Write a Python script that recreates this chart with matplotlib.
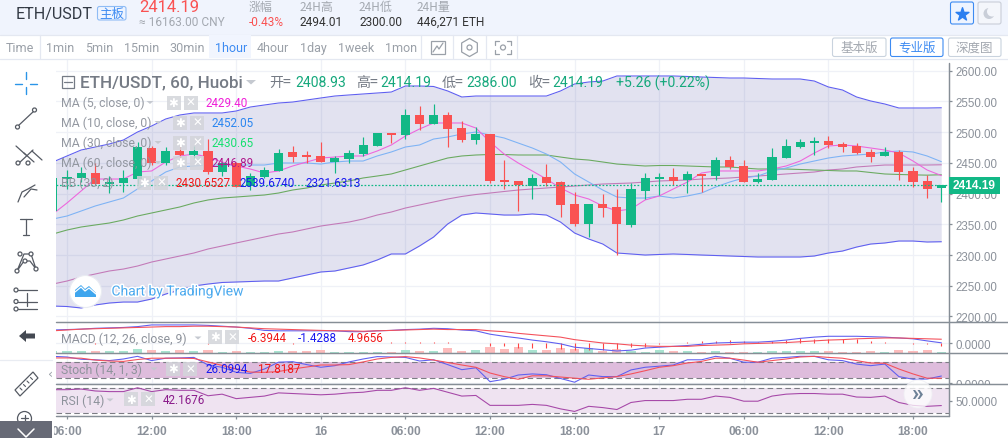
import numpy as np
import matplotlib
matplotlib.use("Agg")
import matplotlib.pyplot as plt
from matplotlib.patches import Rectangle, Circle, FancyBboxPatch, Polygon
import matplotlib.patheffects as pe

W, H = 1008, 439
# ---------- data (hourly bars, first one is cut by the left edge) ----------
opens = [2372,2424,2426,2434,2415.5,2418,2424,2475,2450,2469,2463,2469,2435,2450,2413,2427,2437,2467,2462,2461,2451,2456,2464,2477,2499,2495,2528,2513,2528,2507,2487,2497,2422,2420,2412,2427,2419,2383,2350,2383,2378,2349,2404,2424,2427,2422,2432,2429,2455,2445,2419,2422,2458,2476,2482,2486,2481,2477,2468,2461,2468,2437,2420,2408.93]
highs = [2425,2438,2444,2449,2428.6,2438,2484,2478,2476,2480,2477,2489,2451,2451,2434,2443,2473,2478,2470,2484,2461,2471,2492,2499,2499,2538,2543,2546,2533,2518,2508,2497,2455,2420,2432,2448,2420,2403,2383,2399,2407,2417,2433,2433,2442,2437,2432,2460,2461,2455,2433,2474,2489,2489,2492,2494,2484,2482,2473,2476,2471,2443,2430,2414.19]
lows = [2372,2407,2419,2414,2401.5,2403,2416,2447,2446,2456,2457,2432,2429,2410,2406,2426,2436,2451,2449,2451,2433,2450,2461,2477,2482,2489,2503,2513,2476,2484,2481,2417,2407,2372,2391,2412,2362,2347,2329,2362,2300,2346,2391,2398,2414,2401,2403,2422,2440,2419,2418,2422,2458,2474,2463,2474,2468,2464,2451,2461,2422,2411,2393,2386]
closes = [2425,2427,2434,2415,2419,2425,2476,2450,2469,2463,2469,2435,2450,2411,2429,2438,2466,2460,2460,2451,2458,2466,2479,2499,2495,2528,2513,2528,2505,2487,2497,2420,2419,2414,2425,2417,2381,2350,2383,2376,2350,2407,2425,2427,2420,2432,2429,2455,2443,2419,2424,2460,2477,2484,2486,2479,2476,2466,2460,2468,2435,2419,2407,2414.19]
ma5 = [2366.8,2384.7,2404.2,2423.7,2423.7,2423.7,2435.1,2436.8,2451.4,2461.2,2464.4,2459.5,2451.4,2444.9,2440,2433.5,2436.8,2444.9,2451.4,2457.9,2459.5,2461.2,2461.2,2469.3,2479.1,2493.7,2505.1,2514.9,2514.9,2514.9,2506.7,2484,2464.4,2449.8,2436.8,2423.7,2409.1,2397.7,2391.2,2379.8,2371.7,2374.9,2389.6,2396.1,2407.5,2418.8,2433.5,2436.8,2436.8,2436.8,2436.8,2440,2444.9,2453,2466,2477.4,2479.1,2477.4,2474.2,2470.9,2466,2453,2438.4,2429.4]
ma10 = [2358.6,2363.5,2371.6,2379.8,2386.3,2392.8,2407.5,2420.5,2435.1,2443.3,2444.9,2446.5,2446.5,2446.5,2446.5,2446.5,2449.8,2449.8,2449.8,2448.1,2451.4,2453,2453,2461.2,2467.7,2475.8,2479.1,2488.8,2492.1,2497,2500.2,2495.4,2490.5,2482.3,2474.2,2464.4,2451.4,2431.9,2418.8,2405.8,2394.4,2392.8,2392.8,2396.1,2392.8,2396.1,2400.9,2410.7,2418.8,2425.4,2428.6,2436.8,2441.6,2448.1,2453,2457.9,2461.2,2462.8,2464.4,2467.7,2469.3,2467.7,2461.2,2452.05]
ma30 = [2334.2,2340.7,2345.6,2348.9,2352.1,2357,2363.5,2368.4,2373.3,2378.2,2384.7,2389.6,2392.8,2394.4,2396.1,2397.7,2400.9,2405.8,2409.1,2414,2417.2,2420.5,2425.4,2428.6,2431.9,2438.4,2444.9,2451.4,2457.9,2461.2,2462.8,2463.6,2463.6,2462.8,2462.8,2462.8,2459.5,2456.3,2454.6,2451.4,2448.1,2446.5,2444.9,2445.7,2445.7,2444.9,2444.1,2443.3,2443.3,2441.6,2440,2440,2440,2439.2,2438.4,2437.6,2436.8,2436.8,2434.3,2431.9,2431.1,2430.5,2430,2430.65]
ma60 = [2252.8,2257.7,2264.2,2269.1,2274,2277.2,2282.1,2288.6,2293.5,2298.4,2303.3,2309.8,2314.7,2319.6,2324.4,2329.3,2334.2,2337.5,2342.4,2347.2,2350.5,2353.7,2358.6,2365.1,2370,2376.5,2381.4,2386.3,2391.2,2395.3,2398.5,2400.9,2403.4,2405.8,2407.5,2409.1,2410.7,2412.3,2414,2415.6,2416.4,2417.2,2418.8,2420.5,2421.3,2422.1,2423.7,2424.5,2425.4,2427,2428.6,2430.2,2431.9,2433.5,2435.1,2438.4,2440,2443.3,2444.9,2446.5,2446.5,2446.5,2446.5,2446.89]
bb_upper = [2451.4,2461.2,2470.9,2475.8,2480.7,2487.2,2500.2,2510,2521.4,2527.9,2531.2,2531.2,2531.2,2534.4,2540.9,2544.2,2547.4,2549,2552.3,2555.6,2558.8,2560.5,2562.1,2563.7,2565.3,2575.1,2575.1,2574.3,2567,2557.2,2558.8,2558.8,2558.8,2558.8,2558.8,2558.8,2567,2578.4,2581.6,2583.2,2591.4,2591.4,2591.4,2591.4,2591.4,2590.6,2589.7,2588.9,2588.1,2588.1,2587.3,2586.5,2586.5,2586.5,2583.2,2573.5,2568.6,2557.2,2550.7,2545.8,2539.3,2539.3,2539.3,2539.67]
bb_lower = [2217,2216.2,2213.8,2218.7,2221.9,2223.5,2223.5,2228.4,2236.5,2243,2249.6,2252.8,2255.3,2256.1,2256.9,2257.7,2257.7,2262.6,2267.5,2272.4,2274,2278.9,2283.8,2291.9,2301.7,2301.7,2314.7,2329.3,2350.5,2365.1,2368.4,2366.8,2365.1,2365.1,2366.8,2365.1,2353.7,2335.8,2326.1,2317.9,2303.3,2301.7,2300,2300.9,2301.7,2300.9,2300,2299.2,2298.4,2297.6,2296.8,2296.8,2296.8,2296.8,2298.4,2303.3,2306.5,2313,2317.9,2319.6,2322.8,2322.8,2321.2,2321.63]
macd_line = [31,32,33,35,36,37,39,43,43,43,43,42,40,38,35,30,29,29,29,29,29,27,27,29,30,32,33,35,34,31,29,21,16,12,7,3,-2,-10,-13,-16,-19,-17,-12,-10,-8,-6,-3,0,1,2,2,4,7,11,14,16,16,16,15,14,12,10,5,0.5]
macd_signal = [29,31,33,34,35,36,37,38,39,39,40,40,39,38,36,34,33,32,31,30,29,29,28,29,30,31,32,33,32,32,32,29,27,23,20,17,14,8,4,0,-2,-5,-7,-8,-8,-8,-6,-5,-4,-2,-1,0,1,3,5,7,8,10,11,12,12,11,10,9]
macd_hist = [0,0,0,-2,0,0,0,0,0,0,0,-2,0,0,0,0,0,-2,0,0,0,0,0,0,2,2,2,2,2,0,0,-7,-8,-12,-11,-12,-14,-17,-17,-16,-14,-10,-9,-2,0,2,4,5,7,5,3,5.5,8,11,9.5,9.5,9.5,9.5,5,3,0,-2,-3.5,-6.39]
volume_k = [19,19,19,19,19,19,41,24,19,28.5,19,28.5,14,19,14,14,19,19,19,24,14,9.5,9.5,9.5,9.5,31,22,22,45,22,31,60,41,60,28.5,31,50,41,47.5,22,41,22,12,31,19,19,9.5,19,9.5,9.5,9.5,19,19,19,19,19,9.5,9.5,19,9.5,28.5,19,28.5,9.5]
stoch_k = [100,97.5,89,87,84,90,100,84,93,94,96,67.5,59,40,36,52.5,78,80,69,59,65,79,90,99,97.5,96,82.5,87,69,50,57,5,14,30,34,31,17,3,30,24,24,49,59,63,67.5,87,87,100,93,78,78,93,96,100,100,87,84,71,65,71,24,14,15,26.1]
stoch_d = [94,94,93,86,82.5,81,88,93,93,93,92,79,66,52.5,41,40,43,52.5,60,67.5,67.5,69,79,90,96,99,94,86,77,67.5,59,37.5,24,14,27,27,22.5,18,14,19,24,34,46,59,65,75,81,93,93,86,78,84,90,97.5,100,96,93,84,75,74,52.5,34,18,17.8]
rsi = [67,67,68,65,64,64,70,64,67,66,66,57.5,60,53,55,57,62,61,60,59,60,62,63,66,66,70,66,69,63,57,58,42.5,42.5,42.5,44,42.5,37,33,41,39,36,47,50,50,50,52,52,57,55,49,49,57,60,61,61,60,60,55.5,55,57,47,42.5,41,42.17]
time_ticks = [0,6,12,18,24,30,36,42,48,54,60]
time_labels = ["06:00","12:00","18:00","16","06:00","12:00","18:00","17","06:00","12:00","18:00"]
price_ticks = [2200,2250,2300,2350,2400,2450,2500,2550,2600]

idx = np.arange(-1, 63)
GREEN, RED, GRID, AX, LBL = "#12b886", "#fa5252", "#eff1f7", "#868e96", "#8b919a"
LW = 0.78
CJK = ["Noto Sans CJK SC", "Roboto"]
plt.rcParams["font.family"] = ["Roboto", "Noto Sans CJK SC", "DejaVu Sans"]

fig = plt.figure(figsize=(W/100, H/100), dpi=100, facecolor="white")
XL, XR = 56, 949
x_lim = ((XL-67)/14.1, (XR-67)/14.1)

def pane(top, bot, facecolor="white"):
    a = fig.add_axes([XL/W, 1-bot/H, (XR-XL)/W, (bot-top)/H], facecolor=facecolor)
    a.set_xlim(*x_lim)
    a.set_xticks(time_ticks)
    a.grid(True, color=GRID, lw=0.9, zorder=0)
    a.set_axisbelow(True)
    for s in a.spines.values():
        s.set_visible(False)
    a.yaxis.tick_right()
    a.tick_params(axis="x", length=0, labelbottom=False)
    a.tick_params(axis="y", length=2.2, width=0.9, color=AX, labelcolor=LBL, labelsize=8.3, pad=2.3)
    return a

# ---------- main pane ----------
ax = pane(60, 323)
ax.set_ylim(2191.0, 2619.04)
ax.set_yticks(price_ticks, [f"{p:.2f}" for p in price_ticks], family="Liberation Sans")
ax.fill_between(idx, bb_lower, bb_upper, color="#3f3f9f", alpha=0.15, lw=0, zorder=1)
ax.plot(idx, ma60, color="#c37ab8", lw=LW, zorder=2)
ax.plot(idx, ma30, color="#6aaa60", lw=LW, zorder=2)
ax.plot(idx, ma10, color="#7eb3f5", lw=LW, zorder=2)
ax.plot(idx, ma5, color="#ee66dd", lw=LW, zorder=2)
ax.plot(idx, bb_upper, color="#5f5ff0", lw=LW, zorder=2)
ax.plot(idx, bb_lower, color="#5f5ff0", lw=LW, zorder=2)
cols = [GREEN if c >= o else RED for o, c in zip(opens, closes)]
ax.vlines(idx, lows, highs, colors=cols, lw=0.85, zorder=3)
ax.bar(idx, np.array(closes)-np.array(opens), bottom=opens, width=0.65, color=cols, lw=0, zorder=3)
ax.axhline(closes[-1], color=GREEN, lw=0.9, ls=(0, (1.4, 1.4)), zorder=4)

# ---------- MACD pane, with volume on its own hidden scale behind it ----------
am = pane(323, 354)
am.set_ylim(-23.8, 50)
am.set_yticks([0], ["0.0000"], family="Liberation Sans")
vol = fig.add_axes(am.get_position(), facecolor="none")
vol.set_xlim(*x_lim); vol.set_ylim(0, 294.5); vol.axis("off")
vol.bar(idx, volume_k, width=0.65, lw=0, color=["#a8e3d0" if c == GREEN else "#fdbcbc" for c in cols], zorder=1)
lay = fig.add_axes(am.get_position(), facecolor="none")
lay.set_xlim(*x_lim); lay.set_ylim(-23.8, 50); lay.axis("off")
lay.vlines(idx, 0, macd_hist, colors="#f44", lw=0.8)
lay.plot(idx, macd_line, color="#5f5ff0", lw=LW)
lay.plot(idx, macd_signal, color="#f4505a", lw=LW)

# ---------- Stoch pane ----------
ast = pane(354, 385.5)
ast.set_ylim(-5.6, 112.5)
ast.set_yticks([0], ["0.0000"], family="Liberation Sans")
ast.set_xlim(*x_lim)
ast.fill_between([x_lim[0], 62.55], 20, 80, color="#debcdc", lw=0, zorder=1)
for lv in (20, 80):
    ast.axhline(lv, color="#7d7d85", lw=0.8, ls=(0, (5, 3)), zorder=2)
ast.plot(idx, stoch_k, color="#5f5ff0", lw=LW, zorder=3)
ast.plot(idx, stoch_d, color="#f4505a", lw=LW, zorder=3)

# ---------- RSI pane ----------
ar = pane(385.5, 417.3)
ar.set_ylim(25.4, 75.1)
ar.set_yticks([50], ["50.0000"], family="Liberation Sans")
ar.fill_between([x_lim[0], 62.55], 30, 70, color="#efe3f1", lw=0, zorder=1)
for lv in (30, 70):
    ar.axhline(lv, color="#7d7d85", lw=0.8, ls=(0, (5, 3)), zorder=2)
ar.plot(idx, rsi, color="#a648a8", lw=LW, zorder=3)
ar.tick_params(axis="x", length=2.2, width=0.9, color=AX, labelcolor=LBL, labelbottom=True, labelsize=8.6, pad=4)
ar.set_xticks(time_ticks, time_labels, family="Liberation Sans", weight="bold")

# ---------- page chrome, in pixel coordinates ----------
o = fig.add_axes([0, 0, 1, 1], facecolor="none")
o.set_xlim(0, W); o.set_ylim(H, 0); o.axis("off")

def T(x, y, s, c="#333", sz=9, ha="left", fam=None, w="normal", a=None, z=20, **k):
    return o.text(x, y, s, color=c, fontsize=sz, ha=ha, va="center", family=fam or ["Roboto", "Noto Sans CJK SC"],
                  weight=w, alpha=a, zorder=z, **k)
def R(x0, y0, x1, y1, fc, ec="none", lw=0, z=5, a=None):
    o.add_patch(Rectangle((x0, y0), x1-x0, y1-y0, fc=fc, ec=ec, lw=lw, zorder=z, alpha=a))
def L(xs, ys, c="#555", lw=0.9, z=22, **k):
    o.plot(xs, ys, color=c, lw=lw, zorder=z, solid_capstyle="round", **k)
def RB(x0, y0, x1, y1, fc, ec, lw=0.8, z=6):
    o.add_patch(FancyBboxPatch((x0+1, y0+1), x1-x0-2, y1-y0-2, boxstyle="round,pad=1,rounding_size=2", fc=fc, ec=ec, lw=lw, zorder=z))

R(0, 0, W, 35.5, "#f0f4fd", z=5)
L([0, W], [35.5, 35.5], "#e4e8f1", 0.9, z=6)
R(0, 36, W, 59.5, "white", z=5)
L([0, W], [59.5, 59.5], "#e4e8f1", 0.9, z=6)
R(0, 60, 54, H, "white", z=5)
R(949.8, 60, W, 63, "white", z=5)
R(950, 386.2, W, 396, "white", z=5)

T(16, 14.5, "ETH/USDT", "#333a45", 11.6)
RB(97.5, 7.5, 126, 21, "#eef4ff", "#8fbcf5")
T(111.8, 14.5, "主板", "#3d8bf2", 9, ha="center", fam=CJK)
T(139, 7.5, "2414.19", "#fa5252", 12)
T(139, 22.5, "≈ 16163.00 CNY", "#a3a8b0", 8.6)
for xx, lab, val, vc in [(249, "涨幅", "-0.43%", "#fa5252"), (300, "24H高", "2494.01", "#333"),
                         (359, "24H低", "2300.00", "#333"), (417, "24H量", "446,271 ETH", "#333")]:
    T(xx, 7.5, lab, "#a3a8b0", 8.6, fam=CJK)
    T(xx, 22.5, val, vc, 8.6)
RB(950.5, 3, 973.5, 25, "#eef4ff", "#3d8bf2")
o.scatter([962], [14.5], s=95, marker="*", color="#2b7ff0", zorder=22)
RB(978, 3, 1001, 25, "#f4f6fb", "#c9ced8")
o.add_patch(Circle((989, 14.5), 5.5, fc="#c9ced8", zorder=22))
o.add_patch(Circle((992, 12.5), 5, fc="#f4f6fb", zorder=23))

R(209, 36, 250.5, 59, "#f1f5fe", z=6)
for x0, s, c in [(6, "Time", "#9aa0a8"), (46, "1min", "#9aa0a8"), (85, "5min", "#9aa0a8"), (124, "15min", "#9aa0a8"),
                 (169, "30min", "#9aa0a8"), (215, "1hour", "#3d8bf2"), (257, "4hour", "#9aa0a8"),
                 (300, "1day", "#9aa0a8"), (338, "1week", "#9aa0a8"), (385, "1mon", "#9aa0a8")]:
    T(x0, 48.5, s, c, 9)
for xs in (39.5, 421, 453, 486, 517):
    L([xs, xs], [36, 59], "#e4e8f1", 0.9, z=6)
R(431, 41.5, 445, 55, "none", "#9aa0a8", 0.9, z=22)
L([433, 437, 439, 443], [53, 47, 50, 44], "#9aa0a8")
o.scatter([469.5], [48.5], s=170, marker="h", facecolors="none", edgecolors="#9aa0a8", lw=0.9, zorder=22)
o.add_patch(Circle((469.5, 48.5), 2.5, fc="none", ec="#9aa0a8", lw=0.9, zorder=22))
for a, b, c, d in [(495, 46, 495, 42), (495, 42, 499, 42), (507, 42, 511, 42), (511, 42, 511, 46),
                   (495, 51, 495, 55), (495, 55, 499, 55), (507, 55, 511, 55), (511, 55, 511, 51)]:
    L([a, c], [b, d], "#9aa0a8")
o.add_patch(Circle((503, 48.5), 2.5, fc="none", ec="#9aa0a8", lw=0.9, zorder=22))
for x0, x1, s, c, ec in [(832.5, 886, "基本版", "#a3a8b0", "#c9d3de"), (890.5, 943, "专业版", "#3d8bf2", "#3d8bf2"),
                         (948.5, 1001, "深度图", "#a3a8b0", "#c9d3de")]:
    RB(x0, 39, x1, 57.5, "white", ec)
    T((x0+x1)/2, 48.5, s, c, 9, ha="center", fam=CJK)

# axis and separator lines
for yy in (323.3, 354, 385.5):
    L([56, W], [yy, yy], AX, 1.05, z=8)
L([56, 949], [417.3, 417.3], AX, 1.05, z=8)
L([949.3, 949.3], [64, 417.3], AX, 1.05, z=8)

# last price tag
R(949, 178, 1000, 195, GREEN, z=9)
T(974.5, 186.5, "2414.19", "white", 8.6, ha="center", fam="Liberation Sans", w="bold")

# legends
R(62, 77, 73.5, 88.5, "none", "#757b85", 0.9, z=22)
L([64, 72], [82.8, 82.8], "#757b85", 0.9)
T(80, 83, "ETH/USDT, 60, Huobi", "#757b85", 12.3, w="medium")
o.add_patch(Polygon([[246, 81], [256, 81], [251, 85.5]], fc="#c5c9d0", zorder=21))
sc = "#15a87c"
T(269, 83, "开=", "#757b85", 10.1, fam=CJK)
T(295, 83, "2408.93", sc, 10.1)
T(356, 83, "高=", "#757b85", 10.1, fam=CJK)
T(380, 83, "2414.19", sc, 10.1)
T(442, 83, "低=", "#757b85", 10.1, fam=CJK)
T(466, 83, "2386.00", sc, 10.1)
T(528, 83, "收=", "#757b85", 10.1, fam=CJK)
T(552, 83, "2414.19", sc, 10.1)
T(616, 83, "+5.26 (+0.22%)", sc, 10.1)

def btns(x0, yc):
    for xb, glyph in ((x0, "✱"), (x0+17, "✕")):
        R(xb, yc-7, xb+14, yc+7, "#d3d5da", z=15, a=0.85)
        T(xb+7, yc, glyph, "white", 8.5, ha="center", fam=["DejaVu Sans"], z=16)

rows = [(61, 103.5, "MA (5, close, 0)", 166.5),
        (61, 123.5, "MA (10, close, 0)", 173),
        (61, 143.5, "MA (30, close, 0)", 173),
        (61, 163.5, "MA (60, close, 0)", 173),
        (61, 183.5, "BB (30, 2)", 137)]
for x0, yy, s, bx in rows:
    T(x0, yy, s, "#8e939c", 8.8, a=0.95, z=16)
    btns(bx, yy)
VS = 8.4
T(206, 103.5, "2429.40", "#f01fd8", VS)
T(212, 123.5, "2452.05", "#2a86f0", VS)
T(212, 143.5, "2430.65", "#16e070", VS)
T(212, 163.5, "2446.89", "#b0188c", VS)
T(175, 183.5, "2430.6527", "#f01818", VS)
T(240, 183.5, "2539.6740", "#1818f0", VS)
T(305, 183.5, "2321.6313", "#1818f0", VS)

T(61, 339, "MACD (12, 26, close, 9)", "#8e939c", 8.8, z=16)
btns(208, 338)
T(248, 339, "-6.3944", "#f01818", VS)
T(298, 339, "-1.4288", "#1818f0", VS)
T(348, 339, "4.9656", "#f01818", VS)
T(61, 370, "Stoch (14, 1, 3)", "#8e939c", 8.8, z=16)
btns(166, 370)
T(205, 370, "26.0994", "#1818f0", VS)
T(258, 370, "17.8187", "#f01818", VS)
T(61, 401, "RSI (14)", "#8e939c", 8.8, z=16)
btns(124, 400.5)
T(163, 401, "42.1676", "#8a1a8a", VS)
for xx, yy in [(150, 103.5), (158, 123.5), (158, 143.5), (158, 163.5), (198, 339), (154, 370), (110, 401)]:
    o.add_patch(Polygon([[xx-3.5, yy-1.5], [xx+3.5, yy-1.5], [xx, yy+1.5]], fc="#c5c9d0", zorder=17))

# TradingView badge
o.add_patch(Circle((85.5, 292.5), 16, fc="white", ec="#e9ecf2", lw=0.8, zorder=18))
o.add_patch(Polygon([[75, 298], [75, 291], [81, 286], [85, 290], [89, 287], [96, 294], [96, 298]], fc="#3fa6ee", zorder=19))
L([75, 81, 85, 89, 96], [293, 288, 292, 289, 295], "white", 0.9)
T(111.5, 292.5, "Chart by TradingView", "#4aa9ee", 10, z=19, path_effects=[pe.withStroke(linewidth=2.2, foreground="white")])
# scroll button
o.add_patch(Circle((918, 395), 14, fc="white", alpha=0.75, ec="#efeff4", lw=0.8, zorder=18))
T(918, 394, "»", "#6d8197", 17, ha="center", w="bold", z=19)

# left tool strip
BL = "#2b95e8"
L([26, 26], [73, 80], BL, 1); L([26, 26], [88, 95], BL, 1)
L([15, 22], [84.5, 84.5], BL, 1); L([30, 37], [84.5, 84.5], BL, 1)
IC = "#555a63"
L([18, 34], [127, 112], IC, 0.9)
for px, py in [(17.5, 128), (34.5, 111)]:
    o.add_patch(Circle((px, py), 2, fc="white", ec=IC, lw=0.9, zorder=23))
for a, b in [(20, 146), (28, 153), (36, 151)]:
    L([a-4, a+6], [b+1, b+10], IC, 0.9)
L([18, 33], [165, 151], IC, 0.9)
for px, py in [(18, 164), (28, 164)]:
    o.add_patch(Circle((px, py), 2, fc="white", ec=IC, lw=0.9, zorder=23))
L([18, 22, 28, 35], [203, 193, 190, 186], IC, 0.9); L([24, 31, 37], [198, 190, 191], IC, 0.9)
L([20, 32], [220, 220], IC, 0.9); L([26, 26], [220, 236], IC, 0.9); L([23, 29], [236, 236], IC, 0.9)
L([17, 24, 31, 36, 30, 24, 17], [272, 255, 255, 270, 262, 262, 272], IC, 0.9)
for px, py in [(17, 272), (20, 255), (25, 262), (31, 255), (36, 270)]:
    o.add_patch(Circle((px, py), 2, fc="white", ec=IC, lw=0.9, zorder=23))
for yy in (291, 302.5, 310):
    L([18, 37], [yy, yy], IC, 0.9)
    o.add_patch(Circle((16, yy), 2, fc="white", ec=IC, lw=0.9, zorder=23))
L([27, 27], [294, 307], IC, 0.9)
o.add_patch(Polygon([[19, 337], [26, 331], [26, 334.5], [35, 334.5], [35, 339.5], [26, 339.5], [26, 343]], fc="#444952", zorder=22))
L([0, 52], [360.5, 360.5], "#e9ecf2", 0.9)
T(50.5, 374, "‹", "#9aa0a8", 9, ha="center", fam="DejaVu Sans")
o.add_patch(Polygon([[15, 391], [33, 373], [38, 379], [20, 397]], fc="white", ec=IC, lw=0.9, zorder=22))
for k in range(4):
    L([20+k*3.5, 22+k*3.5], [389-k*3.5, 391-k*3.5], IC, 0.8, z=23)
o.add_patch(Circle((24.5, 419.5), 7, fc="white", ec=IC, lw=0.9, zorder=22))
L([21, 28], [419.5, 419.5], IC, 0.9, z=23); L([24.5, 24.5], [416, 423], IC, 0.9, z=23)
R(0, 422.3, 52, H, "#676a76", z=24)
L([18, 26, 34], [430, 438, 430], "white", 1.1, z=25)

fig.savefig("out.png", dpi=100, facecolor="white")
